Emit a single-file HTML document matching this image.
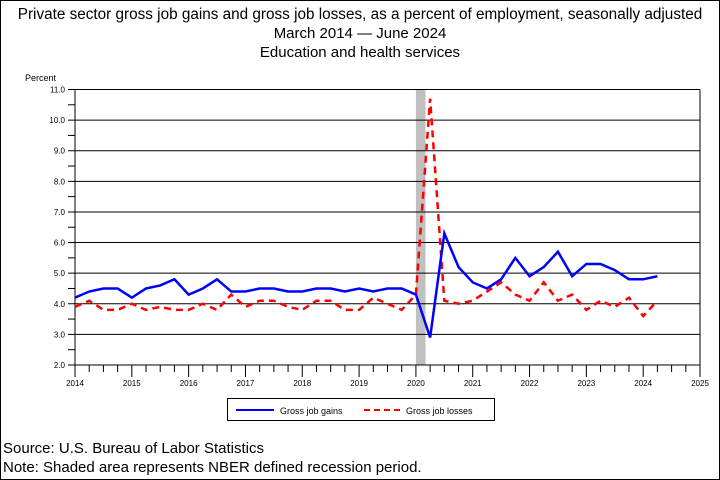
<!DOCTYPE html>
<html><head><meta charset="utf-8"><style>
body{margin:0;background:#fff}
svg{display:block;font-family:"Liberation Sans",sans-serif}
</style></head><body>
<svg width="720" height="480" viewBox="0 0 720 480">
<rect x="0.5" y="0.5" width="719" height="479" fill="#fff" stroke="#000"/>
<text x="360" y="19" font-size="15.3" text-anchor="middle">Private sector gross job gains and gross job losses, as a percent of employment, seasonally adjusted</text>
<text x="360" y="38" font-size="15" text-anchor="middle">March 2014 — June 2024</text>
<text x="360" y="57" font-size="15" text-anchor="middle">Education and health services</text>
<text x="25" y="81" font-size="9">Percent</text>
<g id="plot"></g>
<g>
<rect x="227.5" y="398.5" width="267" height="22" fill="none" stroke="#000"/>
<line x1="236" y1="410" x2="274" y2="410" stroke="#00f" stroke-width="2"/>
<text x="280" y="414" font-size="9">Gross job gains</text>
<line x1="364" y1="410" x2="400" y2="410" stroke="#f00" stroke-width="2" stroke-dasharray="6,4"/>
<text x="406" y="414" font-size="9">Gross job losses</text>
</g>
<text x="3" y="453" font-size="15">Source: U.S. Bureau of Labor Statistics</text>
<text x="3" y="472" font-size="15">Note: Shaded area represents NBER defined recession period.</text>
</svg>
<script>
const gains=[4.2,4.4,4.5,4.5,4.2,4.5,4.6,4.8,4.3,4.5,4.8,4.4,4.4,4.5,4.5,4.4,4.4,4.5,4.5,4.4,4.5,4.4,4.5,4.5,4.3,2.9,6.3,5.2,4.7,4.5,4.8,5.5,4.9,5.2,5.7,4.9,5.3,5.3,5.1,4.8,4.8,4.9];
const losses=[3.9,4.1,3.8,3.8,4.0,3.8,3.9,3.8,3.8,4.0,3.8,4.3,3.9,4.1,4.1,3.9,3.8,4.1,4.1,3.8,3.8,4.2,4.0,3.8,4.3,10.7,4.1,4.0,4.1,4.4,4.7,4.3,4.1,4.7,4.1,4.3,3.8,4.1,3.9,4.2,3.6,4.1];
const yTicks=[2,3,4,5,6,7,8,9,10,11];
const xYears=[2014,2015,2016,2017,2018,2019,2020,2021,2022,2023,2024,2025];
const recession=[2020.0,2020.17];
const startYear=2014;
const X0=75,X1=700,Y0=365,Y1=89.5;
const xs=t=>X0+(t-2014)/(2025-2014)*(X1-X0);
const ys=v=>Y0-(v-2)/(11-2)*(Y0-Y1);
const NS='http://www.w3.org/2000/svg';
const g=document.getElementById('plot');
function mk(tag,at){const e=document.createElementNS(NS,tag);for(const k in at)e.setAttribute(k,at[k]);g.appendChild(e);return e;}
let r=mk('rect',{x:xs(recession[0]),y:Y1,width:xs(recession[1])-xs(recession[0]),height:Y0-Y1,fill:'#c0c0c0'});


yTicks.forEach(v=>{
 const y=ys(v);
 let l=mk('line',{x1:X0-7,x2:X1,y1:y,y2:y,stroke:'#000','stroke-width':1});
 
 
 if(v<11){let m=mk('line',{x1:X0-7,x2:X0,y1:ys(v+0.5),y2:ys(v+0.5),stroke:'#000'});
 
 }
 let t=mk('text',{x:X0-10,y:y+3,'font-size':8,'text-anchor':'end'});
 t.textContent=v.toFixed(1);
 
 
});
let ax=mk('line',{x1:X0,x2:X0,y1:Y1,y2:Y0,stroke:'#000'});


let rx=mk('line',{x1:X1,x2:X1,y1:Y1,y2:Y0,stroke:'#000'});


xYears.forEach((yr,i)=>{
 const x=xs(yr);
 let t=mk('text',{x:x,y:Y0+21,'font-size':8,'text-anchor':'middle'});
 t.textContent=yr;
 
 
 for(let q=0;q<4;q++){ if(yr===2025&&q>0)break;
  let tk=mk('line',{x1:xs(yr+q/4),x2:xs(yr+q/4),y1:Y0,y2:Y0+(q===0?12:7),stroke:'#000'});
  
  }
});
function pts(a){return a.map((v,i)=>xs(startYear+i/4)+','+ys(v)).join(' ');}
let pl=mk('polyline',{points:pts(losses),fill:'none',stroke:'#f00','stroke-width':2.5,'stroke-dasharray':'7,5'});


let pg=mk('polyline',{points:pts(gains),fill:'none',stroke:'#00f','stroke-width':2.5});


</script>
</body></html>
